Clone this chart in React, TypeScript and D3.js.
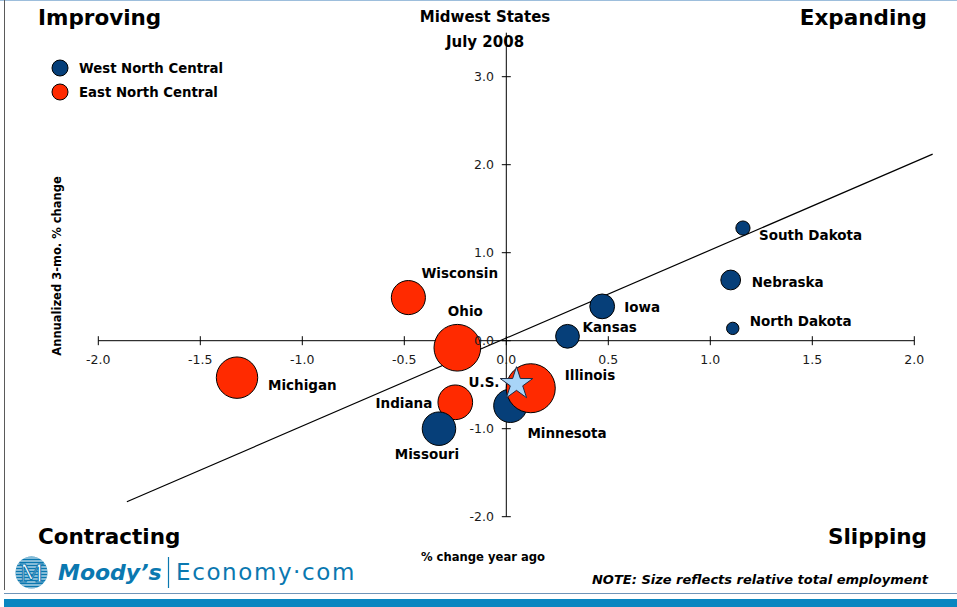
import * as d3 from "d3";

// Midwest states, July 2008
const states = [
  "North Dakota", "South Dakota", "Nebraska", "Iowa", "Kansas", "Minnesota",
  "Missouri", "Wisconsin", "Ohio", "Indiana", "Illinois", "Michigan",
];
const divisions = [
  "West North Central", "West North Central", "West North Central", "West North Central",
  "West North Central", "West North Central", "West North Central",
  "East North Central", "East North Central", "East North Central",
  "East North Central", "East North Central",
];
// % change year ago
const yearAgo = [1.11, 1.16, 1.10, 0.47, 0.30, 0.02, -0.33, -0.48, -0.24, -0.25, 0.12, -1.32];
// annualized 3-mo. % change
const threeMonth = [0.14, 1.28, 0.69, 0.39, 0.05, -0.74, -1.0, 0.49, -0.08, -0.70, -0.54, -0.42];
// total employment (thousands) -> bubble size
const employment = [380, 500, 970, 1520, 1400, 2760, 2780, 2880, 5400, 2980, 5950, 4250];

const usPoint = { name: "U.S.", x: 0.05, y: -0.49 };
const trend = { slope: 1.0, intercept: 0.03, from: -1.86, to: 2.09 };

const xTicks = [-2.0, -1.5, -1.0, -0.5, 0.0, 0.5, 1.0, 1.5, 2.0];
const yTicks = [-2.0, -1.0, 0.0, 1.0, 2.0, 3.0];
const legendItems = ["West North Central", "East North Central"];

// label placement relative to the bubble centre
const labelPos: Record<string, [number, number, string]> = {
  "North Dakota": [17, -2, "start"],
  "South Dakota": [16, 12, "start"],
  Nebraska: [21, 7, "start"],
  Iowa: [22, 6, "start"],
  Kansas: [15, -4, "start"],
  Minnesota: [17, 32, "start"],
  Missouri: [-12, 30, "middle"],
  Wisconsin: [13, -20, "start"],
  Ohio: [8, -32, "middle"],
  Indiana: [-23, 6, "end"],
  Illinois: [34, -8, "start"],
  Michigan: [31, 12, "start"],
};

const W = 957;
const H = 607;
const FONT = "DejaVu Sans, Verdana, sans-serif";
const NAVY = "#063f79";
const RED = "#ff2a00";
const BRAND = "#0a78b0";

export default function App() {
  const x = d3.scaleLinear().domain([-2, 2]).range([98.3, 914.3]);
  const y = d3.scaleLinear().domain([-2, 3.5]).range([516.7, 32.7]);
  const r = d3.scaleSqrt().domain([0, 5950]).range([0, 24.5]);
  const color = d3.scaleOrdinal<string, string>().domain(legendItems).range([NAVY, RED]);

  const points = states
    .map((name, i) => ({
      name,
      division: divisions[i],
      x: yearAgo[i],
      y: threeMonth[i],
      emp: employment[i],
    }))
    .sort((a, b) => a.emp - b.emp);

  // big bubbles first so small ones stay visible; Illinois sits over Minnesota
  const drawOrder = [...points].sort((a, b) => b.emp - a.emp);
  const ill = drawOrder.findIndex((d) => d.name === "Illinois");
  drawOrder.push(drawOrder.splice(ill, 1)[0]);

  const line = d3
    .line<number>()
    .x((v) => x(v))
    .y((v) => y(trend.slope * v + trend.intercept));

  const star = d3.symbol().type(d3.symbolStar).size(330)();
  const x0 = x(0);
  const y0 = y(0);
  const fmt = (v: number) => d3.format(".1f")(v).replace("\u2212", "-");

  return (
    <svg
      width={W}
      height={H}
      style={{ position: "absolute", left: 0, top: 0, background: "#fff" }}
      fontFamily={FONT}
    >
      <rect width={W} height={H} fill="#fff" />
      <line x1={0} x2={W} y1={0.5} y2={0.5} stroke="#9dbedc" />
      <line x1={4.5} x2={4.5} y1={0} y2={590} stroke="#5a5a5a" />

      {/* corner labels */}
      <g fontWeight="bold" fontSize={21.5} fill="#000">
        <text x={38} y={25}>Improving</text>
        <text x={927} y={25} textAnchor="end">Expanding</text>
        <text x={38} y={544}>Contracting</text>
        <text x={927} y={544} textAnchor="end">Slipping</text>
      </g>

      {/* title */}
      <g fontWeight="bold" fontSize={15} textAnchor="middle">
        <text x={485} y={22}>Midwest States</text>
        <text x={485} y={47}>July 2008</text>
      </g>

      {/* legend */}
      <g fontWeight="bold" fontSize={13.3}>
        {legendItems.map((d, i) => (
          <g key={d} transform={`translate(60,${68 + i * 24})`}>
            <circle r={8} fill={color(d)} stroke="#000" strokeWidth={1} />
            <text x={19} y={5}>{d}</text>
          </g>
        ))}
      </g>

      {/* axes */}
      <g stroke="#000" strokeWidth={1}>
        <line x1={x(-2)} x2={x(2)} y1={y0} y2={y0} />
        <line x1={x0} x2={x0} y1={y(-2)} y2={y(3.5)} />
        {xTicks.map((t) => (
          <line key={"xt" + t} x1={x(t)} x2={x(t)} y1={y0 - 4.5} y2={y0 + 4.5} />
        ))}
        {yTicks.map((t) => (
          <line key={"yt" + t} x1={x0 - 4.5} x2={x0 + 4.5} y1={y(t)} y2={y(t)} />
        ))}
      </g>

      {/* trend line */}
      <path d={line([trend.from, trend.to]) ?? ""} fill="none" stroke="#000" strokeWidth={1.2} />

      {/* bubbles */}
      <g>
        {drawOrder.map((d) => (
          <circle
            key={d.name}
            cx={x(d.x)}
            cy={y(d.y)}
            r={r(d.emp)}
            fill={color(d.division)}
            stroke="#000"
            strokeWidth={1}
          />
        ))}
        <path
          d={star ?? ""}
          transform={`translate(${x(usPoint.x)},${y(usPoint.y)})`}
          fill="#a8d4f8"
          stroke="#1c2b44"
          strokeWidth={1}
        />
      </g>

      {/* tick labels */}
      <g fontSize={12.5} fill="#1a1a1a">
        {xTicks.map((t) => (
          <text key={"xl" + t} x={x(t)} y={364} textAnchor="middle">
            {fmt(t)}
          </text>
        ))}
        {yTicks.map((t) => (
          <text key={"yl" + t} x={494} y={y(t) + 4.5} textAnchor="end">
            {fmt(t)}
          </text>
        ))}
      </g>

      {/* point labels */}
      <g fontWeight="bold" fontSize={13.5} fill="#000">
        {points.map((d) => {
          const [dx, dy, anchor] = labelPos[d.name];
          return (
            <text key={"l" + d.name} x={x(d.x) + dx} y={y(d.y) + dy} textAnchor={anchor}>
              {d.name}
            </text>
          );
        })}
        <text x={x(usPoint.x) - 17} y={y(usPoint.y) + 3} textAnchor="end">
          {usPoint.name}
        </text>
      </g>

      {/* axis titles */}
      <text
        transform="translate(61,266) rotate(-90)"
        textAnchor="middle"
        fontWeight="bold"
        fontSize={11.5}
      >
        Annualized 3-mo. % change
      </text>
      <text x={483} y={561} textAnchor="middle" fontWeight="bold" fontSize={11.6}>
        % change year ago
      </text>

      {/* note */}
      <text x={928} y={584} textAnchor="end" fontWeight="bold" fontStyle="italic" fontSize={13}>
        NOTE: Size reflects relative total employment
      </text>

      {/* footer logo */}
      <g>
        <clipPath id="logoClip">
          <circle cx={31.5} cy={572.5} r={16} />
        </clipPath>
        <circle cx={31.5} cy={572.5} r={16} fill={BRAND} />
        <g clipPath="url(#logoClip)" stroke="#fff" strokeWidth={1}>
          {d3.range(0, 11).map((i) => (
            <line key={"s" + i} x1={14} x2={49} y1={558 + i * 3} y2={558 + i * 3} />
          ))}
        </g>
        <text
          x={31.5}
          y={582}
          textAnchor="middle"
          fontFamily="DejaVu Serif, Liberation Serif, serif"
          fontSize={25}
          fill="#fff"
          stroke={BRAND}
          strokeWidth={1}
        >
          M
        </text>
        <text x={58} y={580} fontWeight="bold" fontStyle="italic" fontSize={22} fill={BRAND}>
          Moody’s
        </text>
        <line x1={168.5} x2={168.5} y1={557} y2={588} stroke={BRAND} strokeWidth={1.2} />
        <text x={176} y={580} fontSize={23} letterSpacing={1.6} fill={BRAND}>
          Economy·com
        </text>
      </g>
      <line x1={4} x2={W} y1={593.5} y2={593.5} stroke="#6f94b8" />
      <rect x={4} y={599} width={W - 4} height={8} fill="#0a86c0" />
    </svg>
  );
}
